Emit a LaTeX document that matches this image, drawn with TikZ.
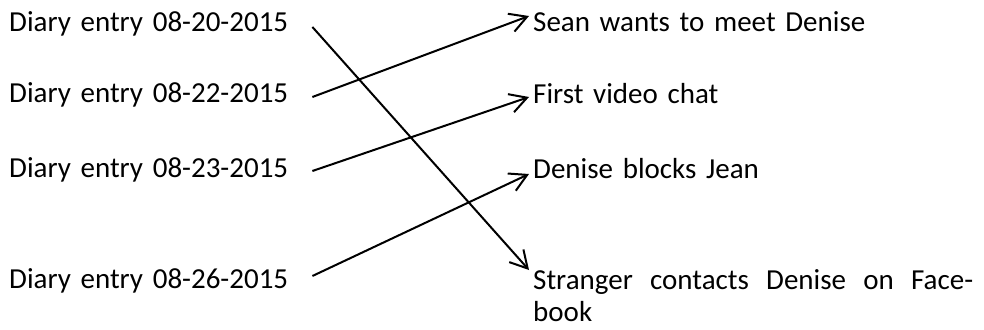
\documentclass[tikz,border=0pt]{standalone}
\usepackage{fontspec}
\setmainfont{Carlito}
\usetikzlibrary{arrows.meta}
\begin{document}
\begin{tikzpicture}[x=1pt,y=-1pt,
  entry/.style={font=\fontsize{29pt}{32pt}\selectfont, inner sep=0pt, anchor=base west,
    text width=303pt, align=left},
  event/.style={font=\fontsize{29pt}{32pt}\selectfont, inner ysep=0pt, inner xsep=4pt,
    anchor=base west, text width=440pt, align=left},
  link/.style={line width=2pt, -{Straight Barb[length=17pt,width=19pt,line width=2pt]}}]
  \useasboundingbox (0,0) rectangle (984,329);

  % diary entries
  \node[entry] (d1) at (9,32)  {Diary entry 08-20-2015};
  \node[entry] (d2) at (9,102) {Diary entry 08-22-2015};
  \node[entry] (d3) at (9,177) {Diary entry 08-23-2015};
  \node[entry] (d4) at (9,288) {Diary entry 08-26-2015};

  % events
  \node[event] (e1) at (529,32)  {Sean wants to meet Denise};
  \node[event] (e2) at (529,103) {First video chat};
  \node[event] (e3) at (529,178) {Denise blocks Jean};
  \node[event] (e4) at (529,289) {Stranger\hfill contacts\hfill Denise\hfill on\hfill Face-\\book};

  % links between entries and events
  \draw[link] ([yshift=5pt]d1.base east)  -- ([yshift=19pt]e4.base west);
  \draw[link] ([yshift=5pt]d2.base east)  -- ([yshift=16pt]e1.base west);
  \draw[link] ([yshift=6pt]d3.base east)  -- ([yshift=6pt]e2.base west);
  \draw[link] ([yshift=12pt]d4.base east) -- ([yshift=4pt]e3.base west);
\end{tikzpicture}
\end{document}
